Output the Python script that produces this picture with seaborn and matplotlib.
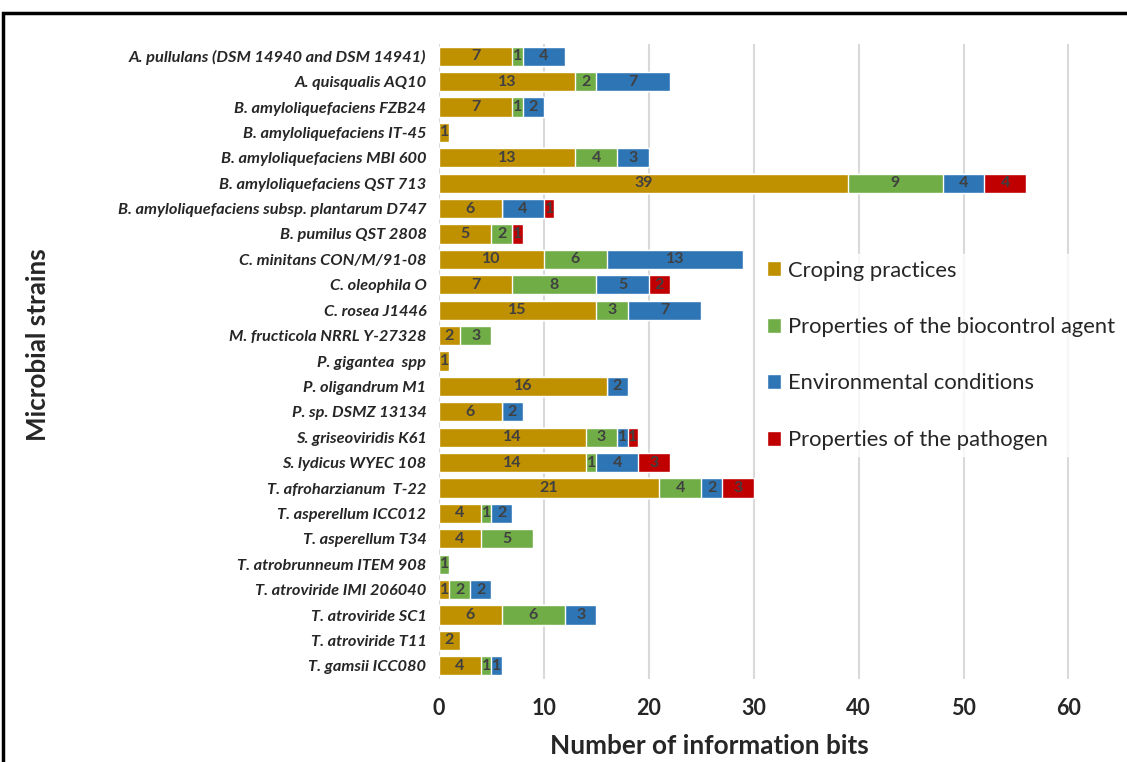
import numpy as np
import pandas as pd
import seaborn as sns
import matplotlib.pyplot as plt
from matplotlib.patches import Patch, Rectangle

strains = [
    "A. pullulans (DSM 14940 and DSM 14941)",
    "A. quisqualis AQ10",
    "B. amyloliquefaciens FZB24",
    "B. amyloliquefaciens IT-45",
    "B. amyloliquefaciens MBI 600",
    "B. amyloliquefaciens QST 713",
    "B. amyloliquefaciens subsp. plantarum D747",
    "B. pumilus QST 2808",
    "C. minitans CON/M/91-08",
    "C. oleophila O",
    "C. rosea J1446",
    "M. fructicola NRRL Y-27328",
    "P. gigantea  spp",
    "P. oligandrum M1",
    "P. sp. DSMZ 13134",
    "S. griseoviridis K61",
    "S. lydicus WYEC 108",
    "T. afroharzianum  T-22",
    "T. asperellum ICC012",
    "T. asperellum T34",
    "T. atrobrunneum ITEM 908",
    "T. atroviride IMI 206040",
    "T. atroviride SC1",
    "T. atroviride T11",
    "T. gamsii ICC080",
]
croping = [7, 13, 7, 1, 13, 39, 6, 5, 10, 7, 15, 2, 1, 16, 6, 14, 14, 21, 4, 4, 0, 1, 6, 2, 4]
biocontrol = [1, 2, 1, 0, 4, 9, 0, 2, 6, 8, 3, 3, 0, 0, 0, 3, 1, 4, 1, 5, 1, 2, 6, 0, 1]
environment = [4, 7, 2, 0, 3, 4, 4, 0, 13, 5, 7, 0, 0, 2, 2, 1, 4, 2, 2, 0, 0, 2, 3, 0, 1]
pathogen = [0, 0, 0, 0, 0, 4, 1, 1, 0, 2, 0, 0, 0, 0, 0, 1, 3, 3, 0, 0, 0, 0, 0, 0, 0]

series = ["Croping practices", "Properties of the biocontrol agent",
          "Environmental conditions", "Properties of the pathogen"]
colors = ["#BF9000", "#70AD47", "#2E75B6", "#C00000"]

df = pd.DataFrame({"strain": strains, series[0]: croping, series[1]: biocontrol,
                   series[2]: environment, series[3]: pathogen})

sns.set_style("white")
plt.rcParams["font.family"] = ["Lato", "DejaVu Sans"]

fig = plt.figure(figsize=(11.27, 7.62), dpi=100)
ax = fig.add_axes([439 / 1127, 1 - 678.5 / 762, 1 - 439 / 1127, (678.5 - 43.5) / 762])

# stacked bars: draw cumulative totals from longest to shortest
cum = df[series].cumsum(axis=1)
for s, c in reversed(list(zip(series, colors))):
    sns.barplot(x=cum[s], y=df["strain"], orient="h", color=c, width=0.75,
                ax=ax, zorder=3, saturation=1)

# segment labels
for i in range(len(df)):
    left = 0
    for s in series:
        v = df.loc[i, s]
        if v > 0:
            ax.text(left + v / 2, i, str(v), ha="center", va="center",
                    fontsize=11.5, fontweight="bold", color="#404040", zorder=4)
        left += v

ax.set_xlim(0, (1127 - 439) / 10.49)
ax.set_xticks(range(0, 70, 10))
ax.grid(axis="x", color="#D9D9D9", linewidth=1.5, zorder=0)
for sp in ax.spines.values():
    sp.set_visible(False)
ax.tick_params(axis="x", labelsize=15.5, pad=14, length=0)
ax.tick_params(axis="y", labelsize=11.8, pad=9, length=0)
for t in ax.get_xticklabels():
    t.set_fontweight("bold")
for t in ax.get_yticklabels():
    t.set_fontweight("bold")
    t.set_fontstyle("italic")
ax.set_xlabel("")
ax.set_ylabel("")
fig.text(709 / 1127, 1 - 746 / 762, "Number of information bits", ha="center",
         va="center", fontsize=18.8, fontweight="bold")
fig.text(38 / 1127, 1 - 345 / 762, "Microbial strains", rotation=90, ha="center",
         va="center", fontsize=18.7, fontweight="bold")

handles = [Patch(facecolor=c, label=s) for s, c in zip(series, colors)]
leg = fig.legend(handles=handles, loc="upper left", bbox_to_anchor=(749 / 1127, 1 - 243 / 762),
                 frameon=True, fontsize=15.8, labelspacing=1.66, handlelength=0.68,
                 handleheight=0.68, handletextpad=0.3, borderpad=0.3, fancybox=False)
leg.get_frame().set_edgecolor("white")
leg.get_frame().set_facecolor("white")
leg.set_zorder(5)

# outer frame (cropped at right and bottom)
fig.patches.append(Rectangle((3 / 1127, -0.1), 1.2, 1 - 13 / 762 + 0.1,
                             transform=fig.transFigure, fill=False,
                             edgecolor="black", linewidth=2.5))

fig.savefig("out.png", dpi=100)
